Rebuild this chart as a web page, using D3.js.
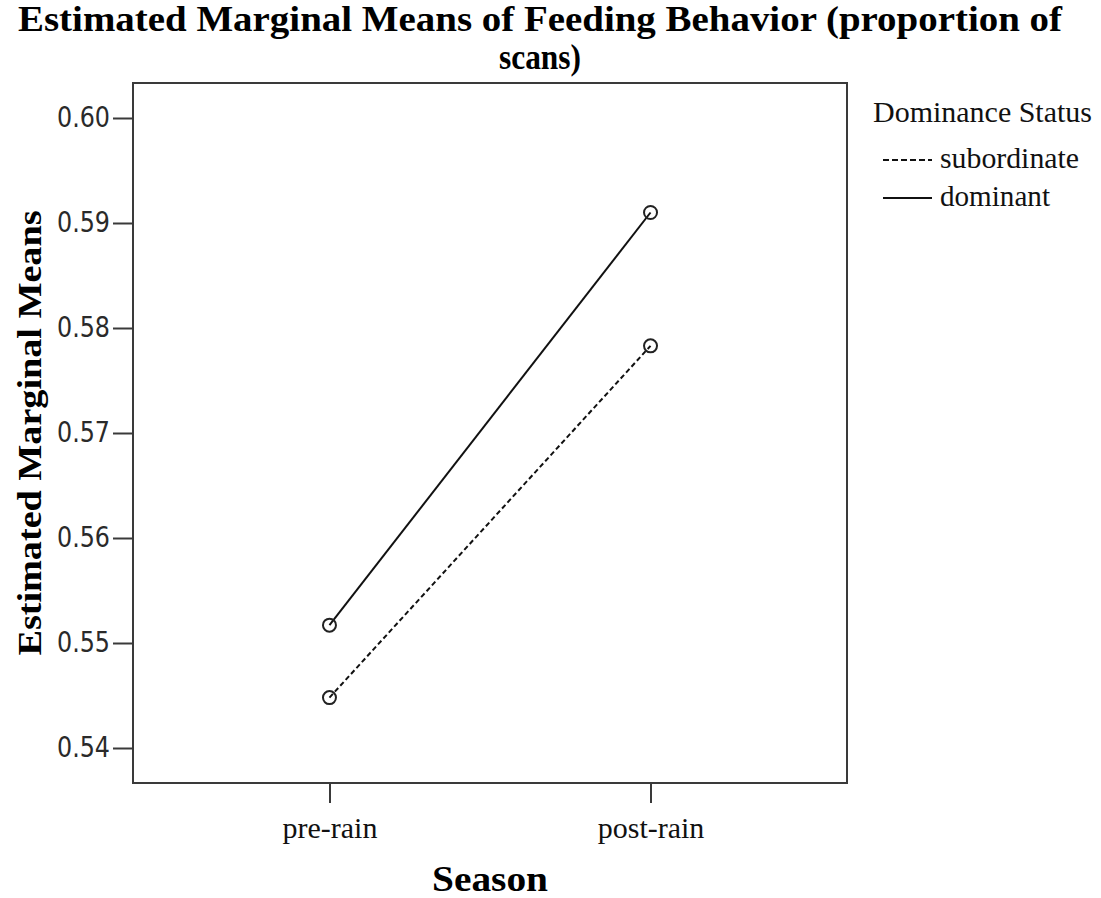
<!DOCTYPE html>
<html>
<head>
<meta charset="utf-8">
<script src="https://cdn.jsdelivr.net/npm/d3@7"></script>
<style>
  body { margin: 0; background: #fff; }
  svg { display: block; }
</style>
</head>
<body>
<div id="vis"></div>
<script>
const seasons = ["pre-rain", "post-rain"];
const groups = ["subordinate", "dominant"];
const subordinateMeans = [0.5448, 0.5783];
const dominantMeans = [0.5517, 0.5910];
const yTicks = [0.54, 0.55, 0.56, 0.57, 0.58, 0.59, 0.60];

const W = 1101, H = 898;
const plot = { left: 133, right: 847, top: 83, bottom: 783 };

const svg = d3.select("#vis")
    .append("svg")
    .attr("width", W)
    .attr("height", H);

const xScale = d3.scalePoint()
    .domain(seasons)
    .range([plot.left, plot.right])
    .padding(0.612);

const yScale = d3.scaleLinear()
    .domain([0.536667, 0.603333])
    .range([plot.bottom, plot.top]);

// title (condensed bold serif, like the original)
const serif = "'Liberation Serif', 'Times New Roman', serif";
svg.append("text")
    .attr("x", 540)
    .attr("y", 31)
    .attr("text-anchor", "middle")
    .attr("font-family", serif)
    .attr("font-weight", "bold")
    .attr("font-size", 36)
    .attr("textLength", 1044)
    .attr("lengthAdjust", "spacingAndGlyphs")
    .text("Estimated Marginal Means of Feeding Behavior (proportion of");

svg.append("text")
    .attr("x", 540)
    .attr("y", 69)
    .attr("text-anchor", "middle")
    .attr("font-family", serif)
    .attr("font-weight", "bold")
    .attr("font-size", 36)
    .attr("textLength", 82)
    .attr("lengthAdjust", "spacingAndGlyphs")
    .text("scans)");

// plot frame
svg.append("rect")
    .attr("x", plot.left)
    .attr("y", plot.top)
    .attr("width", plot.right - plot.left)
    .attr("height", plot.bottom - plot.top)
    .attr("fill", "none")
    .attr("stroke", "#3a3a3a")
    .attr("stroke-width", 2);

// y axis
const yAxis = d3.axisLeft(yScale)
    .tickValues(yTicks)
    .tickSize(20)
    .tickPadding(3)
    .tickFormat(d3.format(".2f"));

const yg = svg.append("g")
    .attr("transform", `translate(${plot.left},0)`)
    .call(yAxis);
yg.select(".domain").remove();
yg.selectAll(".tick line").attr("stroke", "#3a3a3a").attr("stroke-width", 2);
yg.selectAll(".tick text")
    .attr("fill", "#2a2a2a")
    .attr("font-family", "'DejaVu Sans', Tahoma, sans-serif")
    .attr("font-size", 28)
    .attr("textLength", 53)
    .attr("lengthAdjust", "spacingAndGlyphs");

// x axis
const xAxis = d3.axisBottom(xScale)
    .tickSize(20)
    .tickPadding(14);

const xg = svg.append("g")
    .attr("transform", `translate(0,${plot.bottom})`)
    .call(xAxis);
xg.select(".domain").remove();
xg.selectAll(".tick line").attr("stroke", "#3a3a3a").attr("stroke-width", 2);
xg.selectAll(".tick text")
    .attr("fill", "#111")
    .attr("font-family", serif)
    .attr("font-size", 30);

// axis titles
svg.append("text")
    .attr("x", 490)
    .attr("y", 891)
    .attr("text-anchor", "middle")
    .attr("font-family", serif)
    .attr("font-weight", "bold")
    .attr("font-size", 35)
    .attr("textLength", 116)
    .attr("lengthAdjust", "spacingAndGlyphs")
    .text("Season");

svg.append("text")
    .attr("transform", `translate(41,${(plot.top + plot.bottom) / 2}) rotate(-90)`)
    .attr("text-anchor", "middle")
    .attr("font-family", serif)
    .attr("font-weight", "bold")
    .attr("font-size", 33)
    .attr("textLength", 445)
    .attr("lengthAdjust", "spacingAndGlyphs")
    .text("Estimated Marginal Means");

// lines
const series = [
    { name: groups[0], values: subordinateMeans, dash: "5,3" },
    { name: groups[1], values: dominantMeans, dash: null }
];

const line = d3.line()
    .x((d, i) => xScale(seasons[i]))
    .y(d => yScale(d));

svg.selectAll(".series")
    .data(series)
    .enter()
    .append("path")
    .attr("class", "series")
    .attr("d", d => line(d.values))
    .attr("fill", "none")
    .attr("stroke", "#111")
    .attr("stroke-width", 2)
    .attr("stroke-dasharray", d => d.dash);

series.forEach(s => {
    svg.selectAll(null)
        .data(s.values)
        .enter()
        .append("circle")
        .attr("cx", (d, i) => xScale(seasons[i]))
        .attr("cy", d => yScale(d))
        .attr("r", 6.5)
        .attr("fill", "none")
        .attr("stroke", "#222")
        .attr("stroke-width", 2);
});

// legend
svg.append("text")
    .attr("x", 873)
    .attr("y", 122)
    .attr("font-family", serif)
    .attr("font-size", 30)
    .attr("fill", "#111")
    .attr("textLength", 219)
    .attr("lengthAdjust", "spacingAndGlyphs")
    .text("Dominance Status");

const legend = svg.selectAll(".legend")
    .data(series)
    .enter()
    .append("g")
    .attr("class", "legend")
    .attr("transform", (d, i) => `translate(883,${160 + i * 38})`);

legend.append("line")
    .attr("x1", 0)
    .attr("x2", 49)
    .attr("y1", 0)
    .attr("y2", 0)
    .attr("stroke", "#111")
    .attr("stroke-width", 2)
    .attr("stroke-dasharray", d => d.dash ? "6,3" : null);

legend.append("text")
    .attr("x", 57)
    .attr("y", 8)
    .attr("font-family", serif)
    .attr("font-size", 30)
    .attr("fill", "#111")
    .attr("textLength", d => d.name === "subordinate" ? 139 : 110)
    .attr("lengthAdjust", "spacingAndGlyphs")
    .text(d => d.name);
</script>
</body>
</html>
